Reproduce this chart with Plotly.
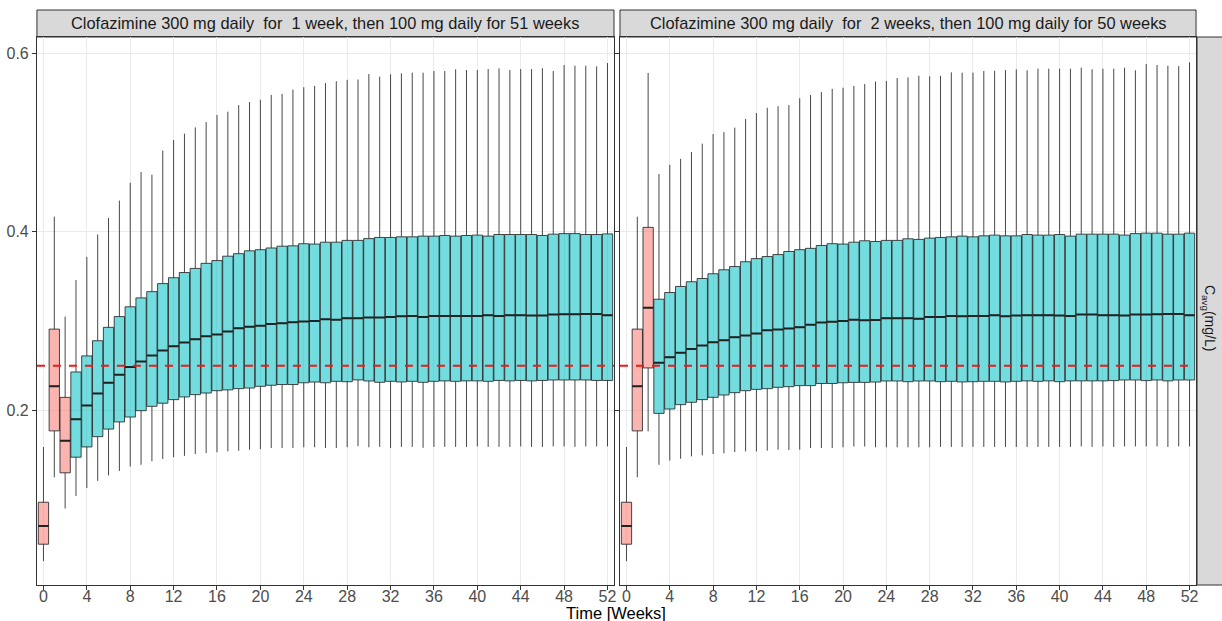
import plotly.graph_objects as go

WEEKS = list(range(53))
N_LOADING = 3  # first three time points drawn in the "loading" colour

PANEL_TITLES = [
    "Clofazimine 300 mg daily\u00a0 for\u00a0 1 week, then 100 mg daily for 51 weeks",
    "Clofazimine 300 mg daily\u00a0 for\u00a0 2 weeks, then 100 mg daily for 50 weeks",
]
ROW_LABEL = "C<sub>avg</sub>(mg/L)"
X_TITLE = "Time [Weeks]"
X_TICKS = list(range(0, 53, 4))
Y_TICKS = [0.2, 0.4, 0.6]
TARGET = 0.25

# Panel A: 1 week loading
A_LO = [0.031, 0.125, 0.090, 0.104, 0.113, 0.121, 0.127, 0.132, 0.137, 0.139,
        0.143, 0.1455, 0.1475, 0.149, 0.151, 0.152, 0.153, 0.154, 0.1546, 0.1558,
        0.1566, 0.1578, 0.1578, 0.1578, 0.1586, 0.1586, 0.1578, 0.1578, 0.1586, 0.1598,
        0.1586, 0.159, 0.1578, 0.159, 0.159, 0.158, 0.159, 0.159, 0.159, 0.159,
        0.1596, 0.159, 0.159, 0.159, 0.1596, 0.159, 0.159, 0.1596, 0.1596, 0.159,
        0.1596, 0.1596, 0.1596]
A_Q1 = [0.050, 0.177, 0.130, 0.1475, 0.159, 0.1705, 0.179, 0.187, 0.1925, 0.1996,
        0.2045, 0.208, 0.212, 0.215, 0.2176, 0.2194, 0.222, 0.2229, 0.2243, 0.225,
        0.2269, 0.2281, 0.2289, 0.2289, 0.2309, 0.2317, 0.2309, 0.2325, 0.2321, 0.2341,
        0.2329, 0.2314, 0.2325, 0.2318, 0.2325, 0.2314, 0.2325, 0.2330, 0.2325, 0.2330,
        0.2330, 0.2325, 0.2335, 0.2330, 0.2335, 0.2330, 0.2335, 0.2340, 0.2340, 0.2340,
        0.2340, 0.2335, 0.2335]
A_MED = [0.0705, 0.227, 0.166, 0.190, 0.2055, 0.219, 0.231, 0.240, 0.2485, 0.2547,
         0.2614, 0.267, 0.2717, 0.276, 0.2797, 0.2829, 0.285, 0.2884, 0.292, 0.2936,
         0.2948, 0.2968, 0.2976, 0.2988, 0.2996, 0.300, 0.302, 0.3016, 0.3032, 0.3032,
         0.304, 0.304, 0.3047, 0.3055, 0.3058, 0.3047, 0.3058, 0.3058, 0.3058, 0.3058,
         0.3058, 0.3066, 0.3058, 0.3066, 0.3066, 0.3062, 0.3062, 0.3074, 0.3077, 0.3077,
         0.308, 0.308, 0.3066]
A_Q3 = [0.097, 0.291, 0.2145, 0.243, 0.261, 0.278, 0.293, 0.305, 0.316, 0.326,
        0.333, 0.342, 0.3486, 0.3544, 0.359, 0.3647, 0.3678, 0.3727, 0.3755, 0.3787,
        0.380, 0.3819, 0.3839, 0.3843, 0.3867, 0.3863, 0.3884, 0.3884, 0.3904, 0.3904,
        0.3924, 0.3937, 0.3937, 0.3944, 0.3944, 0.3952, 0.3952, 0.3959, 0.3952, 0.3959,
        0.3963, 0.3952, 0.397, 0.397, 0.397, 0.397, 0.3959, 0.3974, 0.398, 0.398,
        0.397, 0.397, 0.3977]
A_HI = [0.159, 0.417, 0.305, 0.346, 0.372, 0.397, 0.4156, 0.435, 0.455, 0.467,
        0.464, 0.491, 0.503, 0.510, 0.517, 0.523, 0.531, 0.5346, 0.542, 0.5454,
        0.548, 0.5534, 0.5546, 0.5594, 0.562, 0.5635, 0.5667, 0.5687, 0.5703, 0.5707,
        0.5768, 0.5738, 0.5765, 0.5776, 0.5783, 0.5783, 0.5802, 0.5802, 0.5821, 0.5813,
        0.5813, 0.5824, 0.5832, 0.5813, 0.5824, 0.5824, 0.5832, 0.5802, 0.5869, 0.5861,
        0.5861, 0.5854, 0.5891]

# Panel B: 2 weeks loading
B_LO = [0.031, 0.125, 0.1765, 0.139, 0.1436, 0.1458, 0.1484, 0.1495, 0.151, 0.1518,
        0.1533, 0.154, 0.154, 0.1548, 0.156, 0.1555, 0.156, 0.1578, 0.1578, 0.1578,
        0.1586, 0.1594, 0.1594, 0.1586, 0.1586, 0.1586, 0.1586, 0.1586, 0.1586, 0.159,
        0.159, 0.159, 0.159, 0.159, 0.159, 0.159, 0.159, 0.159, 0.159, 0.159,
        0.159, 0.159, 0.1596, 0.159, 0.1596, 0.159, 0.1596, 0.1596, 0.1596, 0.1596,
        0.159, 0.1596, 0.1596]
B_Q1 = [0.050, 0.177, 0.2475, 0.1966, 0.2015, 0.2064, 0.209, 0.212, 0.2146, 0.2172,
        0.2198, 0.222, 0.2235, 0.2243, 0.2258, 0.2265, 0.2277, 0.2277, 0.2301, 0.2301,
        0.2309, 0.2313, 0.2313, 0.2317, 0.2329, 0.2329, 0.2321, 0.2329, 0.2329, 0.2321,
        0.2325, 0.2318, 0.2321, 0.2325, 0.2325, 0.2318, 0.2325, 0.2330, 0.2325, 0.2330,
        0.2321, 0.2330, 0.2330, 0.2330, 0.2330, 0.2333, 0.2340, 0.2340, 0.2333, 0.2340,
        0.2330, 0.2340, 0.2340]
B_MED = [0.0705, 0.227, 0.315, 0.2534, 0.2596, 0.2645, 0.2686, 0.2726, 0.2762, 0.2784,
         0.282, 0.2838, 0.286, 0.2896, 0.2905, 0.2918, 0.2932, 0.296, 0.2984, 0.2992,
         0.300, 0.3016, 0.3008, 0.3012, 0.3032, 0.3032, 0.3033, 0.3025, 0.3047, 0.3047,
         0.3058, 0.3055, 0.3058, 0.3058, 0.3066, 0.3055, 0.3062, 0.3066, 0.3066, 0.3066,
         0.3062, 0.3058, 0.3074, 0.3074, 0.3066, 0.3066, 0.3062, 0.3074, 0.3074, 0.3077,
         0.308, 0.308, 0.3066]
B_Q3 = [0.097, 0.291, 0.405, 0.3245, 0.332, 0.3388, 0.3441, 0.3477, 0.353, 0.3575,
        0.3611, 0.3665, 0.370, 0.3723, 0.3745, 0.378, 0.380, 0.3815, 0.3847, 0.3867,
        0.3863, 0.3884, 0.390, 0.3892, 0.3904, 0.3904, 0.3922, 0.3915, 0.393, 0.3937,
        0.3944, 0.3952, 0.3944, 0.3955, 0.3963, 0.3955, 0.3955, 0.397, 0.3963, 0.3963,
        0.397, 0.3952, 0.3974, 0.3974, 0.3974, 0.3974, 0.3963, 0.398, 0.3985, 0.3985,
        0.3974, 0.3974, 0.3985]
B_HI = [0.159, 0.417, 0.578, 0.4648, 0.475, 0.4818, 0.4894, 0.4988, 0.5095, 0.5118,
        0.5167, 0.5265, 0.5332, 0.539, 0.5408, 0.542, 0.5497, 0.5534, 0.5566, 0.5602,
        0.5614, 0.5635, 0.5655, 0.5683, 0.5691, 0.5723, 0.5731, 0.5749, 0.5742, 0.5749,
        0.5787, 0.5783, 0.5783, 0.5802, 0.5805, 0.5813, 0.5821, 0.581, 0.5828, 0.5828,
        0.5828, 0.5828, 0.5839, 0.5821, 0.5828, 0.5828, 0.5839, 0.581, 0.588, 0.5869,
        0.5861, 0.5858, 0.5899]

PINK_FILL = "rgba(248,118,109,0.55)"
CYAN_FILL = "rgba(0,191,196,0.55)"
OUTLINE = "rgba(40,40,40,0.85)"
FONT = "Liberation Sans, Arial, sans-serif"

W, H = 1222, 621
fig = go.Figure()

panels = [
    (A_LO, A_Q1, A_MED, A_Q3, A_HI, "x", "y"),
    (B_LO, B_Q1, B_MED, B_Q3, B_HI, "x2", "y2"),
]
for lo, q1, med, q3, hi, xa, ya in panels:
    for sl, fill in ((slice(0, N_LOADING), PINK_FILL), (slice(N_LOADING, None), CYAN_FILL)):
        fig.add_trace(go.Box(
            x=WEEKS[sl], lowerfence=lo[sl], q1=q1[sl], median=med[sl], q3=q3[sl],
            upperfence=hi[sl], fillcolor=fill, line=dict(color=OUTLINE, width=1),
            whiskerwidth=0, width=0.95, boxpoints=False, showlegend=False,
            hoverinfo="skip", xaxis=xa, yaxis=ya,
        ))
    # thicker median bar (ggplot "fatten"): a flat box at the median
    fig.add_trace(go.Box(
        x=WEEKS, lowerfence=med, q1=med, median=med, q3=med, upperfence=med,
        fillcolor="rgba(0,0,0,0)", line=dict(color="rgba(30,30,30,0.95)", width=2),
        whiskerwidth=0, width=0.95, boxpoints=False, showlegend=False,
        hoverinfo="skip", xaxis=xa, yaxis=ya,
    ))

def px(x):
    return x / W

def py(y):
    return (H - y) / H

L_X = (37, 615)
R_X = (621, 1198)
P_Y = (37, 585)
STRIP_TOP = 10

xaxis_common = dict(
    range=[-0.6, 52.6], tickvals=X_TICKS, ticks="outside", ticklen=4,
    tickcolor="#333333", tickfont=dict(family=FONT, size=16, color="#4D4D4D"),
    ticklabelstandoff=-7,
    showgrid=True, gridcolor="#EBEBEB", gridwidth=1, zeroline=False,
    showline=True, mirror=True, linecolor="#333333", linewidth=1,
)
yaxis_common = dict(
    range=[0.0043, 0.6183], tickvals=Y_TICKS, ticktext=["0.2", "0.4", "0.6"],
    ticks="outside", ticklen=4, tickcolor="#333333",
    tickfont=dict(family=FONT, size=16, color="#4D4D4D"),
    showgrid=True, gridcolor="#EBEBEB", gridwidth=1, zeroline=False,
    showline=True, mirror=True, linecolor="#333333", linewidth=1,
    domain=[py(P_Y[1]), py(P_Y[0])],
)

fig.update_layout(
    width=W, height=H, margin=dict(l=0, r=0, t=0, b=0),
    paper_bgcolor="white", plot_bgcolor="white", boxmode="overlay",
    xaxis=dict(xaxis_common, domain=[px(L_X[0]), px(L_X[1])], anchor="y"),
    xaxis2=dict(xaxis_common, domain=[px(R_X[0]), px(R_X[1])], anchor="y2"),
    yaxis=dict(yaxis_common, anchor="x"),
    yaxis2=dict(yaxis_common, anchor="x2", showticklabels=False),
    font=dict(family=FONT),
)

shapes = []
annotations = []
for (x0, x1), title, xa in ((L_X, PANEL_TITLES[0], "x"), (R_X, PANEL_TITLES[1], "x2")):
    shapes.append(dict(type="rect", xref="paper", yref="paper",
                       x0=px(x0), x1=px(x1), y0=py(P_Y[0]), y1=py(STRIP_TOP),
                       fillcolor="#D9D9D9", line=dict(color="#333333", width=1), layer="below"))
    annotations.append(dict(text=title, xref="paper", yref="paper",
                            x=(px(x0) + px(x1)) / 2, y=(py(P_Y[0]) + py(STRIP_TOP)) / 2,
                            xanchor="center", yanchor="middle", showarrow=False,
                            font=dict(family=FONT, size=16.4, color="#1A1A1A")))
    shapes.append(dict(type="line", xref=xa + " domain", yref="y" + xa[1:],
                       x0=0, x1=1, y0=TARGET, y1=TARGET,
                       line=dict(color="#F21818", width=2, dash="8px,8px"), layer="above"))

# right strip (row label)
shapes.append(dict(type="rect", xref="paper", yref="paper",
                   x0=px(1199), x1=1.01, y0=py(P_Y[1]), y1=py(P_Y[0]),
                   fillcolor="#D9D9D9", line=dict(color="#333333", width=1), layer="below"))
annotations.append(dict(text=ROW_LABEL, xref="paper", yref="paper",
                        x=px(1211), y=py(318),
                        xanchor="center", yanchor="middle", textangle=90, showarrow=False,
                        font=dict(family=FONT, size=14, color="#1A1A1A")))
annotations.append(dict(text=X_TITLE, xref="paper", yref="paper",
                        x=px(617), y=py(613), xanchor="center", yanchor="middle",
                        showarrow=False, font=dict(family=FONT, size=16.5, color="#000000")))

fig.update_layout(shapes=shapes, annotations=annotations)
fig.write_html("out.html", config={"displayModeBar": False},
               post_script="document.body.style.margin='0px';")
